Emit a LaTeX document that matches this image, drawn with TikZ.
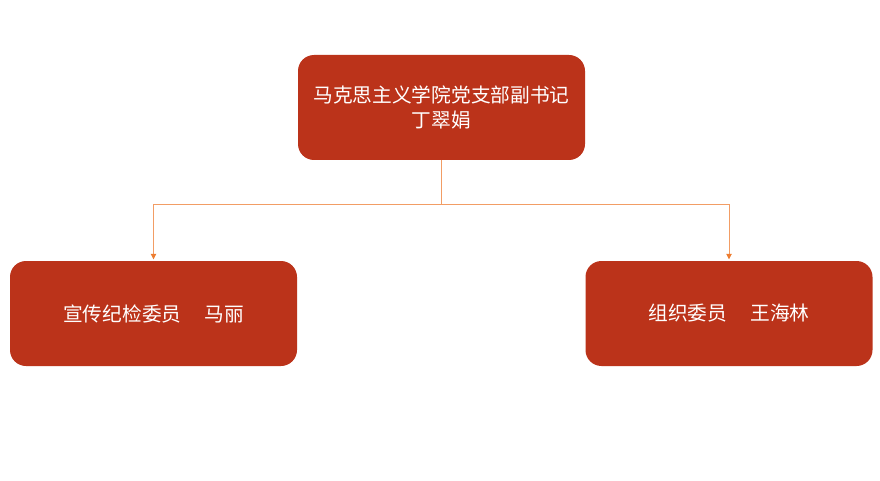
\documentclass[tikz,border=0pt]{standalone}
\usepackage{fontspec}
\usepackage{tikz}
\usetikzlibrary{arrows.meta}
\newfontfamily\cjk{Noto Sans CJK SC}
\definecolor{boxred}{RGB}{187,51,26}
\definecolor{linkorange}{RGB}{237,125,49}

\begin{document}
\begin{tikzpicture}[x=1pt,y=1pt,
		member/.style={fill=boxred, draw=none, rounded corners=16pt,
			minimum width=287pt, minimum height=105pt, inner sep=0pt,
			text=white, align=center, font=\cjk\fontsize{19.7}{24.5}\selectfont},
		link/.style={draw=linkorange!75, line width=0.8pt},
		tip/.style={-{Triangle[length=5.5pt,width=5.5pt,fill=linkorange,color=linkorange]}}]
		\useasboundingbox (0,0) rectangle (880,480);

		% Secretary
		\node[member] (secretary) at (441.5,372.5) {马克思主义学院党支部副书记\\丁翠娟};

		% Members
		\node[member] (discipline) at (153.5,166.5) {宣传纪检委员\hspace{23pt}马丽};
		\node[member] (organize) at (729,166.5) {组织委员\hspace{23pt}王海林};

		% Links
		\coordinate (split) at (441.5,276);
		\draw[link] (secretary.south) -- (split);
		\draw[link,tip] (split) -| ([yshift=1.5pt]discipline.north);
		\draw[link,tip] (split) -| ([yshift=1.5pt]organize.north);
	\end{tikzpicture}
\end{document}
